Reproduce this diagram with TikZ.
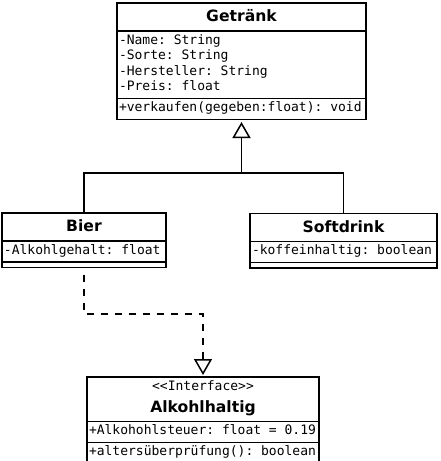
\documentclass[tikz,border=0pt]{standalone}
\usepackage{fontspec}
\setmonofont{DejaVu Sans Mono}[Ligatures = NoCommon]
\newfontfamily\umlsans{DejaVu Sans}
\usetikzlibrary{
  shapes.multipart,
  calc,
  positioning,
  arrows.meta
}

\newcommand{\umlmembers}{\ttfamily\fontsize{13}{15.5}\selectfont}
\newcommand{\umlname}[1]{{\umlsans\bfseries\fontsize{15.6}{18}\selectfont\rule[-6.5pt]{0pt}{22.5pt}#1}}
\newcommand{\umlmid}[1]{\hspace*{\fill}#1\hspace*{\fill}\null}
\newcommand{\umlsp}{\hbox to 7.83pt{}}

\tikzset{
  umlclass/.style = {rectangle split, rectangle split parts = 3, draw,
    line width = 1.5pt, inner xsep = 2pt, inner ysep = 2pt,
    align = left, font = \umlmembers, anchor = north},
  umlline/.style = {line width = 1.5pt},
  umlhead/.style = {-{Triangle[open, length = 16pt, width = 18pt]}}
}

\begin{document}
\begin{tikzpicture}[x = 1pt, y = -1pt]
    \useasboundingbox (0,0) rectangle (440,461);

    \node[umlclass, text width = 245pt] (getraenk) at (241.5,2)
      {\umlmid{\umlname{Getränk}}
       \nodepart{two}\strut-Name:\umlsp String\\\strut-Sorte:\umlsp String\\
       \strut-Hersteller:\umlsp String\\\strut-Preis:\umlsp float
       \nodepart{three}\strut+verkaufen(gegeben:float):\umlsp void};
    \node[umlclass, text width = 160pt] (bier) at (84,212)
      {\umlmid{\umlname{Bier}}
       \nodepart{two}\strut-Alkohlgehalt:\umlsp float
       \nodepart{three}\rule{0pt}{0pt}};
    \node[umlclass, text width = 183pt] (softdrink) at (343.5,212.5)
      {\umlmid{\umlname{Softdrink}}
       \nodepart{two}\strut-koffeinhaltig:\umlsp boolean
       \nodepart{three}\rule{0pt}{0pt}};
    \node[umlclass, text width = 228pt] (alkohol) at (203,376)
      {\umlmid{\strut<<Interface>>}\\\umlmid{\umlname{Alkohlhaltig}}
       \nodepart{two}\strut+Alkohohlsteuer:\umlsp float\umlsp=\umlsp 0.19
       \nodepart{three}\strut+altersüberprüfung():\umlsp boolean};

    \coordinate (fork) at ($(bier.north)+(0,-39)$);
    \coordinate (bend) at ($(alkohol.north)+(0,-62)$);

    \draw[umlline] (bier.north) |- (fork) -| (softdrink.north);
    \draw[umlline, umlhead, shorten > = 2pt] (fork -| getraenk.south) -- (getraenk.south);
    \draw[umlline, umlhead, dash pattern = on 7.5pt off 6.5pt,
      dash phase = 7.5pt, shorten > = 1pt] (bier.south) |- (bend) -- (alkohol.north);
  \end{tikzpicture}
\end{document}
